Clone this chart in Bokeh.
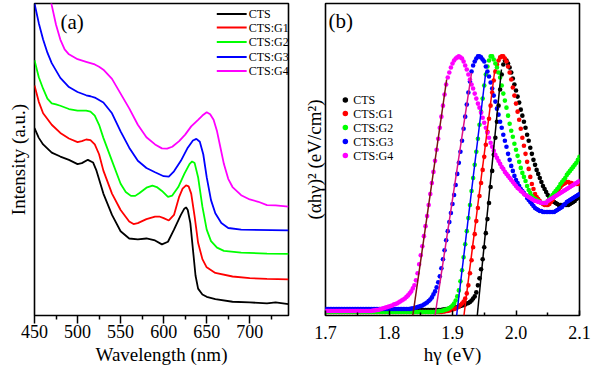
import numpy as np
from bokeh.plotting import figure
from bokeh.layouts import row
from bokeh.models import Range1d, FixedTicker, NumeralTickFormatter, Label, Title
from bokeh.core.properties import value
from bokeh.embed import file_html
from bokeh.resources import INLINE

FONT = "Liberation Serif"

# ---------------- data: panel (a) ----------------
names = ["CTS", "CTS:G1", "CTS:G2", "CTS:G3", "CTS:G4"]
colors = ["#000000", "#ff0000", "#00ff00", "#0000ff", "#ff00ff"]

wl_cts = [450, 455, 460, 470, 480, 490, 500, 505, 512, 518, 522, 530, 540, 550, 560, 570, 580, 590, 598, 605,
          612, 620, 624, 626, 628, 631, 634, 637, 640, 645, 650, 660, 680, 700, 720, 730, 745]
int_cts = [572, 542, 522, 497, 485, 475, 462, 465, 475, 467, 442, 372, 307, 257, 235, 232, 235, 229, 217, 225,
           262, 307, 326, 330, 322, 282, 202, 122, 82, 64, 57, 50, 42, 40, 37, 40, 35]

wl_g1 = [450, 455, 460, 470, 480, 490, 500, 505, 510, 515, 520, 525, 530, 540, 550, 560, 565, 570, 580, 590,
         595, 600, 606, 612, 618, 622, 626, 629, 632, 636, 640, 645, 650, 660, 680, 700, 720, 745]
int_g1 = [702, 652, 617, 582, 557, 540, 529, 532, 537, 535, 522, 492, 442, 372, 322, 287, 279, 282, 294, 302,
          302, 297, 290, 307, 362, 387, 397, 394, 372, 302, 222, 172, 147, 130, 119, 114, 112, 110]

wl_g2 = [450, 455, 460, 465, 470, 475, 480, 490, 500, 510, 515, 520, 525, 530, 540, 550, 556, 562, 567, 572,
         580, 587, 592, 598, 605, 610, 617, 624, 630, 633, 636, 640, 645, 650, 655, 662, 670, 690, 720, 745]
int_g2 = [779, 727, 692, 662, 647, 644, 640, 630, 625, 625, 622, 610, 582, 542, 472, 402, 377, 365, 365, 374,
          390, 396, 392, 380, 362, 366, 392, 432, 462, 470, 465, 422, 332, 262, 227, 207, 197, 192, 189, 188]

wl_g3 = [450, 455, 460, 465, 470, 480, 490, 500, 510, 515, 520, 530, 540, 550, 560, 570, 580, 590, 600, 606,
         612, 620, 628, 634, 638, 642, 646, 650, 655, 660, 667, 675, 690, 745]
int_g3 = [952, 892, 842, 802, 770, 725, 697, 682, 672, 669, 665, 650, 617, 562, 512, 472, 450, 437, 425, 424,
          440, 472, 512, 534, 539, 530, 492, 422, 352, 312, 282, 267, 262, 260]

wl_g4 = [465, 470, 475, 480, 485, 490, 500, 510, 520, 525, 530, 540, 550, 560, 570, 580, 590, 598, 604, 610,
         618, 625, 632, 640, 645, 650, 654, 658, 662, 666, 670, 675, 680, 690, 700, 710, 720, 730, 745]
int_g4 = [1022, 947, 887, 842, 812, 797, 782, 774, 766, 759, 750, 722, 677, 632, 582, 544, 522, 510, 509, 515,
          532, 552, 577, 597, 610, 620, 614, 597, 562, 512, 462, 417, 392, 367, 354, 347, 337, 336, 332]

wl_ticks = [450, 500, 550, 600, 650, 700]
wl_minor = [475, 525, 575, 625, 675, 725]

# ---------------- data: panel (b) ----------------
ev = [round(1.7 + 0.0025 * i, 4) for i in range(161)]

abs_cts = [5.5, 5.5, 5.5, 5.5, 5.5, 5.5, 5.5, 5.5, 5.5, 5.5, 5.5, 5.5, 5.5, 5.5, 5.5, 5.5, 5.5, 5.5, 5.5, 5.5,
           5.5, 5.5, 5.5, 5.5, 5.5, 5.5, 5.5, 5.5, 5.5, 5.5, 5.5, 5.5, 5.5, 5.5, 5.5, 5.5, 5.5, 5.5, 5.5, 5.5,
           5.5, 5.5, 5.5, 5.5, 5.5, 5.5, 5.5, 5.5, 5.5, 5.5, 5.5, 5.5, 5.5, 5.5, 5.5, 5.5, 5.5, 5.5, 5.5, 5.5,
           5.5, 5.5, 5.5, 5.5, 5.5, 5.5, 5.5, 5.5, 5.5, 5.5, 5.5, 5.5, 5.5, 5.5, 6, 6, 6.5, 6.5, 7, 7,
           7.5, 7.5, 8, 8.5, 9, 9.5, 10, 10.5, 11, 12, 12.5, 13.5, 15, 17, 19, 23, 30, 37, 46, 56,
           68, 82, 96, 112, 128, 144, 160, 177, 193, 209, 225, 240, 250, 254, 254, 251, 247, 242, 236, 230,
           224, 218, 212, 205, 199, 193, 187, 180, 174, 167, 161, 155, 150, 145, 141, 137, 133, 129, 126, 123,
           120, 118, 116, 114, 113, 112, 111, 110, 110, 110, 110, 110, 110, 110, 111, 112, 113, 114, 116, 117,
           119]
abs_g1 = [3.5, 3.5, 3.5, 3.5, 3.5, 3.5, 3.5, 3.5, 3.5, 3.5, 3.5, 3.5, 3.5, 3.5, 3.5, 3.5, 3.5, 3.5, 3.5, 3.5,
          3.5, 3.5, 3.5, 3.5, 3.5, 3.5, 3.5, 3.5, 3.5, 3.5, 3.5, 3.5, 3.5, 3.5, 3.5, 3.5, 3.5, 3.5, 3.5, 3.5,
          3.5, 3.5, 3.5, 3.5, 3.5, 3.5, 3.5, 3.5, 3.5, 3.5, 3.5, 3.5, 3.5, 3.5, 3.5, 3.5, 3.5, 3.5, 3.5, 3.5,
          3.5, 3.5, 3.5, 3.5, 3.5, 3.5, 3.5, 3.5, 3.5, 3.5, 3.5, 3.5, 3.5, 3.5, 4, 4, 4.5, 4.5, 5, 5.5,
          6, 6.5, 7, 8, 9, 10.5, 12, 14, 17, 22, 30, 42, 55, 68, 81, 94, 107, 119, 132, 145,
          158, 170, 183, 196, 209, 222, 234, 243, 250, 254, 257, 258, 258, 256, 253, 248, 242, 235, 227, 219,
          211, 203, 195, 186, 177, 169, 161, 153, 146, 138, 131, 126, 121, 118, 116, 114, 112, 111, 110, 110,
          110, 111, 113, 115, 118, 120, 123, 126, 128, 130, 131, 132, 133, 133, 132, 132, 131, 131, 131, 131,
          131]
abs_g2 = [3.5, 3.5, 3.5, 3.5, 3.5, 3.5, 3.5, 3.5, 3.5, 3.5, 3.5, 3.5, 3.5, 3.5, 3.5, 3.5, 3.5, 3.5, 3.5, 3.5,
          3.5, 3.5, 3.5, 3.5, 3.5, 3.5, 3.5, 3.5, 3.5, 3.5, 3.5, 3.5, 3.5, 3.5, 3.5, 3.5, 3.5, 3.5, 3.5, 3.5,
          3.5, 3.5, 3.5, 3.5, 3.5, 3.5, 3.5, 3.5, 3.5, 3.5, 3.5, 3.5, 3.5, 3.5, 3.5, 3.5, 3.5, 3.5, 3.5, 3.5,
          3.5, 3.5, 3.5, 3.5, 3.5, 3.5, 3.5, 3.5, 3.5, 3.5, 4, 4, 4.5, 4.5, 5, 5.5, 6, 6.5, 7.5, 8.5,
          10, 12, 15, 19, 25, 34, 45, 58, 71, 84, 97, 110, 124, 137, 150, 163, 176, 190, 203, 216,
          229, 240, 248, 254, 258, 258, 255, 251, 247, 242, 237, 229, 221, 214, 207, 199, 191, 184, 178, 171,
          165, 159, 153, 147, 142, 138, 134, 129, 125, 122, 119, 117, 116, 115, 114, 113, 112, 112, 112, 112,
          114, 116, 118, 120, 122, 124, 126, 128, 131, 133, 135, 137, 140, 142, 144, 146, 148, 150, 152, 155,
          158]
abs_g3 = [6.5, 6.5, 6.5, 6.5, 6.5, 6.5, 6.5, 6.5, 6.5, 6.5, 6.5, 6.5, 6.5, 6.5, 6.5, 6.5, 6.5, 6.5, 6.5, 6.5,
          6.5, 6.5, 6.5, 6.5, 6.5, 6.5, 6.5, 6.5, 6.5, 6.5, 6.5, 6.5, 6.5, 6.5, 6.5, 6.5, 6.5, 6.5, 6.5, 6.5,
          6.5, 6.5, 6.5, 6.5, 6.5, 6.5, 6.5, 6.5, 6.5, 6.5, 6.5, 6.5, 6.5, 6.5, 7, 7, 7.5, 8, 8.5, 9,
          9.5, 10, 11, 12, 13, 14.5, 16, 18, 21, 24, 28, 33, 39, 47, 56, 65, 75, 84, 93, 102,
          111, 120, 130, 141, 152, 163, 174, 186, 198, 210, 222, 233, 243, 249, 253, 256, 258, 258, 257, 255,
          253, 248, 243, 238, 232, 226, 219, 213, 206, 200, 193, 187, 180, 174, 168, 161, 155, 149, 144, 139,
          135, 132, 129, 126, 124, 122, 120, 117, 115, 113, 111, 109, 107, 106, 105, 104, 104, 103, 103, 103,
          103, 103, 103, 103, 103, 104, 105, 106, 107, 108, 110, 111, 113, 114, 115, 116, 117, 118, 119, 120,
          121]
abs_g4 = [4.5, 4.5, 4.5, 4.5, 4.5, 4.5, 4.5, 4.5, 4.5, 4.5, 4.5, 4.5, 4.5, 4.5, 4.5, 4.5, 4.5, 4.5, 4.5, 4.5,
          4.5, 4.5, 4.5, 4.5, 4.5, 4.5, 4.5, 4.5, 4.5, 4.5, 5, 5, 5.5, 5.5, 6, 6.5, 7, 7.5, 8, 8.5,
          9, 9.5, 10, 11, 11.5, 12, 13, 14, 15, 16, 17, 18.5, 20, 22, 24, 27, 30, 35, 42, 51,
          60, 69, 79, 89, 99, 110, 121, 132, 143, 154, 165, 176, 187, 198, 209, 220, 230, 237, 242, 247,
          251, 254, 256, 257, 258, 257, 256, 253, 249, 245, 240, 235, 230, 226, 221, 216, 211, 207, 202, 197,
          192, 187, 182, 177, 172, 168, 164, 160, 157, 154, 151, 148, 146, 143, 141, 139, 137, 135, 133, 131,
          129, 127, 126, 124, 123, 121, 120, 119, 118, 117, 116, 115, 114, 114, 113, 113, 112, 112, 112, 112,
          114, 115, 116, 117, 118, 119, 120, 121, 122, 123, 124, 125, 126, 127, 128, 129, 130, 131, 132, 133,
          134]

# linear fits (Tauc extrapolations): start on axis, end point
fit_x0 = [1.9390, 1.9180, 1.9065, 1.8725, 1.8375]
fit_y0 = [0, 0, 0, 0, 0]
fit_x1 = [1.9771, 1.9667, 1.9525, 1.9300, 1.8908]
fit_y1 = [245, 245, 242.7, 241.7, 235]
fit_colors = ["#000000", "#ff0000", "#0000ff", "#dd1188", "#7a1212"]

ev_ticks = [1.7, 1.8, 1.9, 2.0, 2.1]
ev_minor = [1.75, 1.85, 1.95, 2.05]

abs_all = [abs_cts, abs_g1, abs_g2, abs_g3, abs_g4]
for a in abs_all:
    assert len(a) == len(ev), len(a)

# ---------------- layout helpers (page pixels) ----------------
H = 371
WA, WB = 300, 291
FT, FB = 3, 315          # frame top/bottom
A_L, A_R = 33, 288       # panel a frame left/right
B_L, B_R = 323, 579      # panel b frame left/right
A_X0, A_X1, A_Y1 = 450, 745, 952
B_X0, B_X1, B_Y1 = 1.7, 2.1, 310.7


def ax(px):
    return A_X0 + (px - A_L) * (A_X1 - A_X0) / (A_R - A_L)


def ay(py):
    return (FB - py) * A_Y1 / (FB - FT)


def bx(px):
    return B_X0 + (px - B_L) * (B_X1 - B_X0) / (B_R - B_L)


def by(py):
    return (FB - py) * B_Y1 / (FB - FT)


def make_fig(width, xr, yr, left, right):
    p = figure(width=width, height=H, x_range=xr, y_range=yr, output_backend="svg",
               toolbar_location=None, min_border_left=left, min_border_right=right,
               min_border_top=FT, min_border_bottom=H - FB)
    p.grid.visible = False
    p.outline_line_color = "black"
    p.outline_line_width = 1.6
    p.outline_line_alpha = 1
    p.background_fill_color = "white"
    p.border_fill_color = "white"
    p.yaxis.visible = False
    p.xaxis.axis_line_color = None
    p.xaxis.major_label_text_font = FONT
    p.xaxis.major_label_text_font_size = "18px"
    p.xaxis.major_label_text_font_style = "normal"
    p.xaxis.major_label_text_color = "black"
    p.xaxis.major_tick_line_width = 1.5
    p.xaxis.minor_tick_line_width = 1.5
    return p


def side_title(p, text, where, offset, standoff, style="normal"):
    p.add_layout(Title(text=text, align="center", offset=offset, standoff=standoff,
                       text_font=FONT, text_font_size="19px", text_font_style=style,
                       text_color="black"), where)


# ---------------- panel (a) ----------------
pa = make_fig(WA, Range1d(A_X0, A_X1), Range1d(0, A_Y1), A_L, WA - A_R)
pa.xaxis.ticker = FixedTicker(ticks=wl_ticks, minor_ticks=wl_minor)
pa.xaxis.major_tick_out = 8
pa.xaxis.major_tick_in = 0
pa.xaxis.minor_tick_out = 4
pa.xaxis.minor_tick_in = 0
pa.xaxis.major_label_standoff = 1

for wl, it, c in zip([wl_cts, wl_g1, wl_g2, wl_g3, wl_g4],
                     [int_cts, int_g1, int_g2, int_g3, int_g4], colors):
    pa.line(wl, it, line_color=c, line_width=1.8)

# legend (a)
leg_y = [13.5, 27, 41.5, 56.5, 70.5]
for c, n, yy in zip(colors, names, leg_y):
    pa.segment(x0=[ax(216)], y0=[ay(yy)], x1=[ax(246)], y1=[ay(yy)], line_color=c, line_width=2)
    pa.text(x=[ax(248)], y=[ay(yy)], text=[n], text_font=value(FONT), text_font_size="12px",
            text_baseline="middle", text_align="left", text_color="black")

pa.add_layout(Label(x=ax(59), y=ay(21), text="(a)", text_font=FONT, text_font_size="21px",
                    text_baseline="middle", text_align="left", text_color="black"))
side_title(pa, "Wavelength (nm)", "below", 6, 3)
side_title(pa, "Intensity (a.u.)", "left", 14, 11)

# ---------------- panel (b) ----------------
pb = make_fig(WB, Range1d(B_X0, B_X1), Range1d(0, B_Y1), B_L - WA, WB - (B_R - WA))
pb.xaxis.ticker = FixedTicker(ticks=ev_ticks, minor_ticks=ev_minor)
pb.xaxis.formatter = NumeralTickFormatter(format="0.0")
pb.xaxis.major_tick_out = 0
pb.xaxis.major_tick_in = 5
pb.xaxis.minor_tick_out = 0
pb.xaxis.minor_tick_in = 3
pb.xaxis.major_label_standoff = 10

for a, c in zip(abs_all, colors):
    pb.scatter(ev, a, size=4.6, fill_color=c, line_color=None)

pb.segment(x0=fit_x0, y0=fit_y0, x1=fit_x1, y1=fit_y1, line_color=fit_colors, line_width=1.5)

# legend (b)
leg_yb = [99.5, 113, 127, 141, 155]
for c, n, yy in zip(colors, names, leg_yb):
    pb.scatter(x=[bx(343)], y=[by(yy)], size=5.5, fill_color=c, line_color=None)
    pb.text(x=[bx(351)], y=[by(yy)], text=[n], text_font=value(FONT), text_font_size="12px",
            text_baseline="middle", text_align="left", text_color="black")

pb.add_layout(Label(x=bx(326), y=by(20.5), text="(b)", text_font=FONT, text_font_size="21px",
                    text_baseline="middle", text_align="left", text_color="black"))
side_title(pb, "hγ (eV)", "below", 6, 1)
side_title(pb, "(αhγ)² (eV/cm²)", "left", -8, 2)

layout = row(pa, pb)
open("out.html", "w").write(file_html(layout, INLINE))
